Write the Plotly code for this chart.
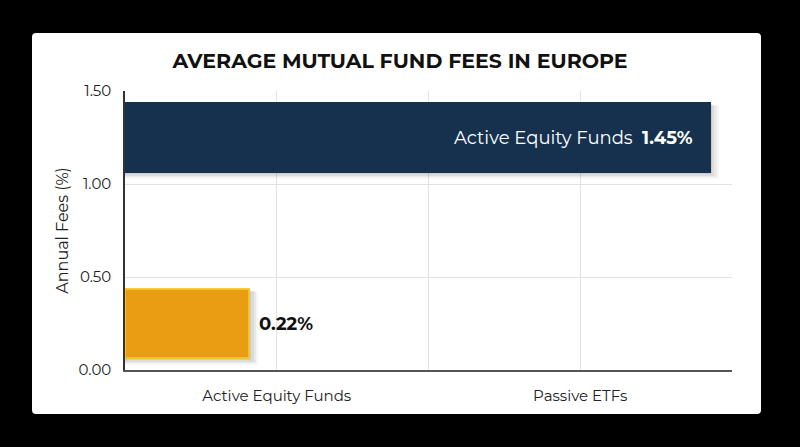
import plotly.graph_objects as go

# ---- data ----
title_text = "AVERAGE MUTUAL FUND FEES IN EUROPE"
x_categories = ["Active Equity Funds", "Passive ETFs"]
y_tick_values = [0.0, 0.5, 1.0, 1.5]
y_tick_labels = ["0.00", "0.50", "1.00", "1.50"]
bar_names = ["Passive ETFs", "Active Equity Funds"]   # bottom to top
bar_fees = [0.22, 1.45]
bar_label_names = ["", "Active Equity Funds"]
bar_colors = ["#E99D12", "#16314E"]
edge_colors = ["rgba(250,196,40,0.9)", "rgba(22,49,78,1)"]

# ---- layout constants ----
W, H = 800, 447
ML, MR, MT, MB = 125, 68, 91, 77
PW, PH = W - ML - MR, H - MT - MB
FONT = "Montserrat, 'Noto Sans', sans-serif"
BAR_AXIS_MIN, BAR_AXIS_MAX = -0.11, 1.51
BAR_W = 0.37

fig = go.Figure()

# invisible trace to activate visible axes
fig.add_trace(go.Scatter(x=[0.5, 1.5], y=[0, 0], mode="markers",
                         marker=dict(opacity=0), hoverinfo="skip",
                         showlegend=False))

# bar shadows (soft, offset down-right)
shadow_layers = [(0.035, 0.040, 0.026), (0.05, 0.030, 0.019),
                 (0.06, 0.020, 0.013), (0.07, 0.011, 0.007)]
for alpha, dy, dx in shadow_layers:
    fig.add_trace(go.Bar(
        y=bar_names, x=[v - BAR_AXIS_MIN + dx for v in bar_fees],
        base=BAR_AXIS_MIN, orientation="h",
        width=BAR_W + dy * 0.6, offset=-BAR_W / 2 - dy,
        marker=dict(color=f"rgba(0,0,0,{alpha})", line=dict(width=0)),
        xaxis="x2", yaxis="y2", hoverinfo="skip", showlegend=False))

fig.add_trace(go.Bar(
    y=bar_names, x=[v - BAR_AXIS_MIN for v in bar_fees],
    base=BAR_AXIS_MIN, orientation="h", width=BAR_W,
    marker=dict(color=bar_colors, line=dict(color=edge_colors, width=2)),
    xaxis="x2", yaxis="y2", showlegend=False))

# bar labels
for name, fee, lab in zip(bar_names, bar_fees, bar_label_names):
    if lab:
        fig.add_annotation(x=fee, y=name, xref="x2", yref="y2",
                           text=f"{lab}  <b>{fee:.2f}%</b>", showarrow=False,
                           xanchor="right", xshift=-15,
                           font=dict(family=FONT, size=18, color="white"))
    else:
        fig.add_annotation(x=fee, y=name, xref="x2", yref="y2",
                           text=f"<b>{fee:.2f}%</b>", showarrow=False,
                           xanchor="left", xshift=8,
                           font=dict(family=FONT, size=18, color="#111111"))

# white card
def px_to_paper(px, py):
    return (px - ML) / PW, (H - MB - py) / PH

x0, y0 = px_to_paper(32, 33)
x1, y1 = px_to_paper(761, 414)
rx, ry = 4 / PW, 4 / PH
path = (f"M {x0+rx},{y0} L {x1-rx},{y0} Q {x1},{y0} {x1},{y0-ry} "
        f"L {x1},{y1+ry} Q {x1},{y1} {x1-rx},{y1} L {x0+rx},{y1} "
        f"Q {x0},{y1} {x0},{y1+ry} L {x0},{y0-ry} Q {x0},{y0} {x0+rx},{y0} Z")
fig.add_shape(type="path", path=path, xref="paper", yref="paper",
              fillcolor="white", line=dict(width=0), layer="below")

fig.update_layout(
    width=W, height=H,
    margin=dict(l=ML, r=MR, t=MT, b=MB),
    paper_bgcolor="black", plot_bgcolor="white",
    barmode="overlay", bargap=0,
    title=dict(text=f"<b>{title_text}</b>", x=0.5, xanchor="center",
               y=1 - 61 / H, yanchor="middle", yref="container",
               font=dict(family=FONT, size=20.5, color="#111111")),
    font=dict(family=FONT),
    xaxis=dict(range=[0, 2], tickvals=[0.5, 1, 1.5, 2],
               ticktext=[x_categories[0], "", x_categories[1], ""],
               showgrid=True, gridcolor="#E2E2E2", gridwidth=1,
               zeroline=False, showline=True, linecolor="#555555", linewidth=2,
               ticks="", ticklabelstandoff=11,
               tickfont=dict(family=FONT, size=15, color="#222222"),
               fixedrange=True),
    yaxis=dict(range=[0, 1.5], tickvals=y_tick_values, ticktext=y_tick_labels,
               showgrid=True, gridcolor="#E2E2E2", gridwidth=1,
               zeroline=False, showline=True, linecolor="#333333", linewidth=1.5,
               ticks="", ticklabelstandoff=9,
               tickfont=dict(family=FONT, size=15, color="#222222"),
               title=dict(text="Annual Fees (%)", standoff=6,
                          font=dict(family=FONT, size=16, color="#222222")),
               fixedrange=True),
    xaxis2=dict(overlaying="x", range=[BAR_AXIS_MIN, BAR_AXIS_MAX],
                visible=False, fixedrange=True),
    yaxis2=dict(overlaying="y", type="category", categoryorder="array",
                categoryarray=bar_names, range=[-0.25, 1.25],
                visible=False, fixedrange=True),
)

fig.write_html("out.html", config={"displayModeBar": False},
               post_script="document.body.style.margin='0';"
                           "document.body.style.overflow='hidden';")
